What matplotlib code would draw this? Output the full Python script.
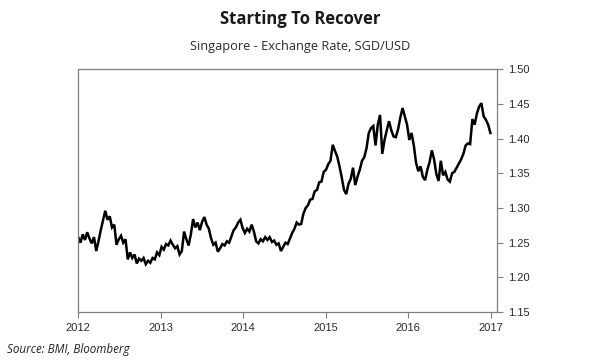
import numpy as np
import pandas as pd
import matplotlib
matplotlib.use('Agg')
import matplotlib.pyplot as plt
import matplotlib.dates as mdates

# SGD/USD at ~10-day steps
start_date = '2012-01-02'
end_date = '2016-12-30'
sgd_usd = [
    1.258, 1.250, 1.262, 1.254, 1.265, 1.256, 1.249, 1.258, 1.238, 1.252,
    1.268, 1.282, 1.296, 1.283, 1.288, 1.272, 1.276, 1.247, 1.255, 1.260,
    1.250, 1.255, 1.226, 1.236, 1.228, 1.233, 1.220, 1.227, 1.224, 1.228,
    1.219, 1.224, 1.221, 1.228, 1.226, 1.236, 1.232, 1.244, 1.240, 1.248,
    1.246, 1.253, 1.247, 1.242, 1.245, 1.233, 1.238, 1.266, 1.255, 1.246,
    1.262, 1.284, 1.272, 1.279, 1.268, 1.280, 1.287, 1.276, 1.270, 1.256,
    1.247, 1.250, 1.237, 1.242, 1.248, 1.246, 1.252, 1.250, 1.259, 1.268,
    1.272, 1.279, 1.283, 1.271, 1.264, 1.270, 1.266, 1.276, 1.266, 1.252,
    1.249, 1.255, 1.252, 1.258, 1.254, 1.258, 1.251, 1.253, 1.247, 1.249,
    1.238, 1.244, 1.250, 1.248, 1.256, 1.264, 1.270, 1.279, 1.276, 1.277,
    1.292, 1.300, 1.304, 1.312, 1.313, 1.324, 1.326, 1.337, 1.338, 1.352,
    1.355, 1.363, 1.368, 1.391, 1.382, 1.374, 1.360, 1.344, 1.326, 1.320,
    1.335, 1.342, 1.358, 1.333, 1.345, 1.355, 1.368, 1.373, 1.386, 1.408,
    1.415, 1.418, 1.390, 1.420, 1.434, 1.378, 1.398, 1.412, 1.425, 1.412,
    1.403, 1.402, 1.413, 1.430, 1.444, 1.432, 1.420, 1.398, 1.408, 1.390,
    1.365, 1.353, 1.360, 1.345, 1.340, 1.355, 1.366, 1.383, 1.370, 1.349,
    1.339, 1.368, 1.347, 1.352, 1.341, 1.338, 1.350, 1.352, 1.358, 1.364,
    1.370, 1.378, 1.390, 1.393, 1.392, 1.428, 1.420, 1.436, 1.446, 1.451,
    1.432, 1.427, 1.420, 1.408,
]
y_ticks = [1.15, 1.20, 1.25, 1.30, 1.35, 1.40, 1.45, 1.50]

dates = pd.date_range(start_date, end_date, periods=len(sgd_usd))

fig = plt.figure(figsize=(6, 3.6), dpi=100)
ax = fig.add_axes([0.13, 0.133, 0.699, 0.675])

ax.plot(dates, sgd_usd, color='black', linewidth=1.8, solid_joinstyle='miter')

ax.set_ylim(1.15, 1.50)
ax.set_xlim(pd.Timestamp('2012-01-01'), pd.Timestamp('2017-01-30'))
ax.set_yticks(y_ticks)
ax.set_yticklabels([f'{v:.2f}' for v in y_ticks])
ax.xaxis.set_major_locator(mdates.YearLocator())
ax.xaxis.set_major_formatter(mdates.DateFormatter('%Y'))

ax.yaxis.tick_right()
for s in ax.spines.values():
    s.set_color('#7f7f7f')
    s.set_linewidth(0.9)
ax.tick_params(axis='both', colors='#7f7f7f', labelcolor='#2b2b2b',
               labelsize=8, length=4, width=0.8, direction='out')
for lab in ax.get_xticklabels() + ax.get_yticklabels():
    lab.set_family('Liberation Sans')

fig.text(0.5, 0.948, 'Starting To Recover', ha='center', va='center',
         fontsize=12, fontweight='bold', family='Open Sans', color='#1a1a1a')
fig.text(0.5, 0.872, 'Singapore - Exchange Rate, SGD/USD', ha='center',
         va='center', fontsize=9.2, family='Open Sans', color='#2b2b2b')
fig.text(0.012, 0.03, 'Source: BMI, Bloomberg', ha='left', va='center',
         fontsize=8.4, style='italic', family='Open Sans', color='#222222')

fig.savefig('out.png', dpi=100)
